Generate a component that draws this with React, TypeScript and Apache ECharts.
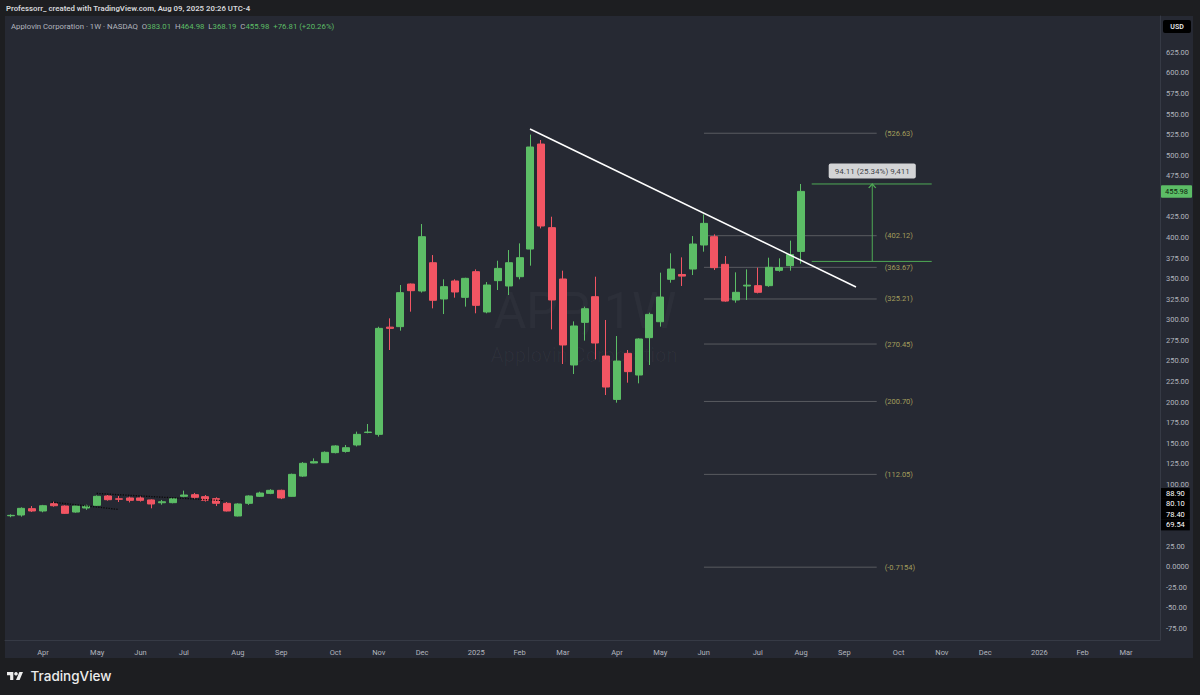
import React, { useEffect, useRef } from "react";
import * as echarts from "echarts";

// ---------- data ----------
const FIRST_WEEK = -3; // week index 0 = week of Apr 1, 2024
const opens = [61.8, 62.7, 70.4, 67.6, 76.5, 73.6, 66.3, 71.2, 74.5, 85.8, 82.3, 83.4, 83.4, 81.0, 77.6, 77.7, 85.4, 87.4, 85.0, 82.6, 76.9, 61.5, 76.9, 85.4, 89.0, 92.7, 85.4, 110.0, 125.9, 126.3, 138.5, 140.0, 147.8, 163.0, 160.7, 291.0, 291.6, 343.4, 334.9, 369.3, 325.2, 347.1, 327.2, 358.4, 309.4, 347.5, 341.0, 352.3, 385.9, 513.5, 411.9, 349.5, 245.0, 296.8, 328.0, 255.9, 203.2, 259.1, 232.8, 278.2, 297.6, 349.1, 355.0, 361.6, 390.8, 400.9, 367.3, 324.0, 341.0, 341.4, 341.4, 360.0, 365.7, 383.01];
const closes = [62.3, 70.8, 67.6, 74.0, 74.0, 64.7, 73.6, 73.6, 85.4, 81.3, 81.9, 80.5, 80.5, 76.1, 78.8, 82.6, 87.0, 84.2, 80.5, 76.9, 67.6, 76.1, 85.8, 89.4, 92.7, 83.4, 112.1, 125.5, 127.5, 138.9, 146.6, 144.5, 160.7, 163.5, 289.5, 289.5, 332.9, 335.3, 400.9, 323.6, 340.2, 333.7, 350.3, 317.5, 342.2, 362.4, 369.3, 375.4, 509.9, 413.9, 324.0, 269.3, 292.4, 313.4, 271.7, 218.2, 249.8, 236.9, 276.6, 306.5, 327.6, 361.6, 353.0, 392.0, 417.1, 363.3, 322.7, 333.3, 342.0, 333.3, 363.7, 363.3, 379.17, 455.98];
const lows = [60.0, 60.7, 66.4, 66.0, 72.8, 64.0, 65.5, 69.0, 73.6, 80.1, 78.5, 78.0, 79.0, 70.8, 75.2, 76.9, 84.2, 82.6, 79.0, 73.6, 67.0, 61.0, 75.0, 84.6, 88.0, 82.0, 85.0, 109.0, 125.5, 125.9, 137.6, 138.5, 146.0, 162.0, 158.0, 263.2, 286.7, 309.8, 333.0, 313.8, 306.9, 326.8, 315.9, 307.8, 307.8, 336.1, 330.0, 349.1, 365.7, 411.0, 288.3, 246.2, 234.0, 274.6, 251.9, 208.5, 199.2, 223.5, 222.7, 245.0, 291.6, 345.0, 341.0, 354.3, 382.7, 360.4, 321.9, 320.7, 324.0, 332.0, 340.0, 358.4, 359.6, 368.19];
const highs = [63.5, 72.0, 73.6, 75.0, 78.9, 74.4, 74.4, 75.2, 86.5, 87.0, 85.8, 85.0, 85.4, 81.7, 81.0, 83.6, 92.3, 89.5, 87.0, 84.2, 78.5, 76.9, 86.6, 91.0, 94.0, 93.5, 113.0, 127.0, 131.5, 140.0, 147.5, 147.8, 164.0, 173.3, 291.5, 301.7, 342.2, 344.0, 416.3, 378.6, 349.1, 349.1, 351.0, 361.2, 345.8, 371.7, 384.7, 392.8, 525.0, 518.4, 425.2, 359.6, 298.0, 315.9, 352.3, 299.7, 280.2, 263.2, 277.4, 308.6, 357.2, 380.7, 375.8, 401.7, 428.0, 403.8, 377.4, 357.6, 361.2, 363.3, 375.4, 374.6, 396.1, 464.98];

const monthTickWeeks = [0, 5, 9, 13, 18, 22, 27, 31, 35, 40, 44, 48, 53, 57, 61, 66, 70, 74, 79, 83, 87, 92, 96, 100];
const monthTickLabels = ["Apr", "May", "Jun", "Jul", "Aug", "Sep", "Oct", "Nov", "Dec", "2025", "Feb", "Mar", "Apr", "May", "Jun", "Jul", "Aug", "Sep", "Oct", "Nov", "Dec", "2026", "Feb", "Mar"];

// 450, 75 and 50 are hidden behind the price tags in the reference
const priceTicks = [-75, -50, -25, 0, 25, 100, 125, 150, 175, 200, 225, 250, 275, 300, 325, 350, 375, 400, 425, 475, 500, 525, 550, 575, 600, 625];

const fibLevels = [526.63, 402.12, 363.67, 325.21, 270.45, 200.70, 112.05, -0.7154];
const fibLabels = ["526.63", "402.12", "363.67", "325.21", "270.45", "200.70", "112.05", "-0.7154"];
const fibWeeks = [61.03, 76.98];

const trendWeeks = [44.97, 75.07];
const trendValues = [531.8, 339.8];

const dottedAWeeks = [0.8, 6.93];
const dottedAValues = [78.40, 69.54];
const dottedBWeeks = [4.96, 16.7];
const dottedBValues = [88.90, 80.10];

const measureWeeks = [70.98, 82.06];
const measureArrowWeek = 76.57;
const measureLow = 370.87;
const measureHigh = 464.98;
const measureLabelValue = 480.7;
const measureText = "94.11 (25.34%) 9,411";

const tagValues = [88.90, 80.10, 78.40, 69.54];
const tagLabels = ["88.90", "80.10", "78.40", "69.54"];

// ---------- style ----------
const PANE = "#262933";
const OUTER = "#1d1e21";
const GREEN = "#5cbd66";
const RED = "#f25563";
const AXIS_TXT = "#b2b5be";
const FIB_LINE = "rgba(150,150,150,0.45)";
const FIB_TXT = "#a39e5c";
const MEASURE = "#4faa55";
const FONT = "Roboto, 'Noto Sans', 'DejaVu Sans', sans-serif";

const X_MIN = -3.51;
const X_MAX = 103.14;
const Y_MIN = -89.2;
const Y_MAX = 669.1;

const TV_LOGO = "M14 22H7V11H0V4h14v18zM28 22h-8l7.5-18h8L28 22z";

export default function App() {
  const ref = useRef<HTMLDivElement>(null);

  useEffect(() => {
    if (!ref.current) return;
    try {
      echarts.graphic.registerShape("tvlogo", echarts.graphic.extendPath(TV_LOGO, {}) as any);
    } catch (e) {}
    const chart = echarts.init(ref.current, undefined, { renderer: "svg" });

    const candles = opens.map((o, k) => [FIRST_WEEK + k, o, closes[k], lows[k], highs[k]]);
    const n = closes.length;
    const lastO = opens[n - 1], lastH = highs[n - 1], lastL = lows[n - 1], lastC = closes[n - 1];
    const chg = lastC - closes[n - 2];
    const chgPct = (chg / closes[n - 2]) * 100;

    const tagOffsets = [0, 3.3, 12.2, 15.6];

    const fibSeries = fibLevels.map((v, k) => ({
      type: "line",
      silent: true,
      symbol: "none",
      z: 1,
      data: [[fibWeeks[0], v], [fibWeeks[1], v]],
      lineStyle: { color: FIB_LINE, width: 1 },
      endLabel: {
        show: true,
        formatter: "(" + fibLabels[k] + ")",
        color: FIB_TXT,
        fontSize: 7.5,
        fontFamily: FONT,
        distance: 8,
      },
    }));

    const labelText =
      "{n|Applovin Corporation · 1W · NASDAQ  O}{v|" + lastO.toFixed(2) +
      "}{n|  H}{v|" + lastH.toFixed(2) +
      "}{n|  L}{v|" + lastL.toFixed(2) +
      "}{n|  C}{v|" + lastC.toFixed(2) +
      "}{v|  +" + chg.toFixed(2) + " (+" + chgPct.toFixed(2) + "%)}";

    const tagLabelBase = {
      show: true,
      position: "end",
      distance: 1,
      fontSize: 7.5,
      fontFamily: FONT,
      lineHeight: 8,
    };

    const option: any = {
      animation: false,
      backgroundColor: PANE,
      textStyle: { fontFamily: FONT },
      grid: { left: 5, right: 40, top: 16, bottom: 55, containLabel: false, outerBoundsMode: "none" },
      xAxis: {
        type: "value",
        min: X_MIN,
        max: X_MAX,
        axisLine: { show: true, onZero: false, lineStyle: { color: "#363a45", width: 1 } },
        axisTick: { show: false },
        splitLine: { show: false },
        axisLabel: {
          customValues: monthTickWeeks,
          formatter: (v: number) => {
            const k = monthTickWeeks.findIndex((w) => Math.abs(w - v) < 0.01);
            return k >= 0 ? monthTickLabels[k] : "";
          },
          color: AXIS_TXT,
          fontSize: 7.5,
          fontFamily: FONT,
          margin: 8,
        },
      },
      yAxis: {
        type: "value",
        position: "right",
        min: Y_MIN,
        max: Y_MAX,
        axisLine: { show: true, onZero: false, lineStyle: { color: "#363a45", width: 1 } },
        axisTick: { show: false },
        splitLine: { show: false },
        axisLabel: {
          customValues: priceTicks,
          formatter: (v: number) => (v === 0 ? "0.0000" : v.toFixed(2)),
          color: AXIS_TXT,
          fontSize: 7.5,
          fontFamily: FONT,
          margin: 6,
        },
      },
      graphic: [
        { type: "rect", silent: true, shape: { x: 0, y: 0, width: 1200, height: 16 }, style: { fill: OUTER } },
        { type: "rect", silent: true, shape: { x: 0, y: 0, width: 5, height: 695 }, style: { fill: OUTER } },
        { type: "rect", silent: true, shape: { x: 1193, y: 0, width: 7, height: 695 }, style: { fill: OUTER } },
        { type: "rect", silent: true, shape: { x: 0, y: 658, width: 1200, height: 37 }, style: { fill: OUTER } },
        {
          type: "text", silent: true, x: 6, y: 8.5,
          style: { text: "Professorr_ created with TradingView.com, Aug 09, 2025 20:26 UTC-4", fill: "#d6d7db", fontSize: 7.8, fontWeight: 600, fontFamily: FONT, verticalAlign: "middle" },
        },
        {
          type: "text", silent: true, x: 11, y: 26,
          style: {
            text: labelText, fontFamily: FONT, verticalAlign: "middle",
            rich: {
              n: { fill: "#b2b5be", fontSize: 7.8, fontFamily: FONT },
              v: { fill: GREEN, fontSize: 7.8, fontFamily: FONT },
            },
          },
        },
        { type: "rect", silent: true, shape: { x: 1163, y: 20, width: 28, height: 13, r: 2 }, style: { fill: "#000000" } },
        {
          type: "text", silent: true, x: 1177, y: 26.5,
          style: { text: "USD", fill: "#e8e8e8", fontSize: 7, fontWeight: 600, fontFamily: FONT, align: "center", verticalAlign: "middle" },
        },
        {
          type: "text", silent: true, x: 585, y: 311,
          style: { text: "APP, 1W", fill: "rgba(255,255,255,0.03)", fontSize: 50, fontFamily: FONT, align: "center", verticalAlign: "middle" },
        },
        {
          type: "text", silent: true, x: 584, y: 355,
          style: { text: "Applovin Corporation", fill: "rgba(255,255,255,0.03)", fontSize: 20, fontFamily: FONT, align: "center", verticalAlign: "middle" },
        },
        { type: "tvlogo", silent: true, x: 7, y: 670.2, scaleX: 0.45, scaleY: 0.45, style: { fill: "#ececec" } },
        { type: "circle", silent: true, shape: { cx: 16, cy: 673.8, r: 1.8 }, style: { fill: "#ececec" } },
        {
          type: "text", silent: true, x: 30.5, y: 676,
          style: { text: "TradingView", fill: "#ececec", fontSize: 13.5, fontWeight: 500, fontFamily: "Inter, Roboto, sans-serif", verticalAlign: "middle" },
        },
      ],
      series: [
        {
          type: "candlestick",
          name: "APP",
          data: candles,
          barWidth: 7.5,
          z: 3,
          itemStyle: { color: GREEN, color0: RED, borderColor: GREEN, borderColor0: RED, borderWidth: 1 },
          markLine: {
            silent: true,
            symbol: ["none", "none"],
            lineStyle: { color: "rgba(0,0,0,0)", width: 0 },
            label: tagLabelBase,
            data: [
              {
                yAxis: lastC,
                lineStyle: { color: "rgba(0,0,0,0)", width: 0 },
                label: { ...tagLabelBase, formatter: lastC.toFixed(2), backgroundColor: GREEN, color: "#0e1f10", padding: [2.5, 4, 2, 4], borderRadius: 1 },
              },
              ...tagValues.map((v, k) => ({
                yAxis: v,
                lineStyle: { color: "rgba(0,0,0,0)", width: 0 },
                label: { ...tagLabelBase, formatter: tagLabels[k], backgroundColor: "#000000", color: "#ffffff", padding: [1.4, 5, 1.4, 5], offset: [0, tagOffsets[k]] },
              })),
            ],
          },
        },
        ...fibSeries,
        {
          type: "line", silent: true, symbol: "none", z: 4,
          data: trendWeeks.map((w, k) => [w, trendValues[k]]),
          lineStyle: { color: "#ffffff", width: 1.5 },
        },
        {
          type: "line", silent: true, symbol: "none", z: 4,
          data: dottedAWeeks.map((w, k) => [w, dottedAValues[k]]),
          lineStyle: { color: "#0a0a0a", width: 1.3, type: "dotted" },
        },
        {
          type: "line", silent: true, symbol: "none", z: 4,
          data: dottedBWeeks.map((w, k) => [w, dottedBValues[k]]),
          lineStyle: { color: "#0a0a0a", width: 1.3, type: "dotted" },
        },
        {
          type: "line", silent: true, symbol: "none", z: 4,
          data: [[measureWeeks[0], measureHigh], [measureWeeks[1], measureHigh]],
          lineStyle: { color: MEASURE, width: 1 },
        },
        {
          type: "line", silent: true, symbol: "none", z: 4,
          data: [[measureWeeks[0], measureLow], [measureWeeks[1], measureLow]],
          lineStyle: { color: MEASURE, width: 1 },
        },
        {
          type: "line", silent: true, symbol: "none", showSymbol: true, z: 4,
          data: [
            [measureArrowWeek, measureLow],
            {
              value: [measureArrowWeek, measureHigh],
              symbol: "path://M0,8 L5,0 L10,8",
              symbolSize: [7, 4],
              symbolOffset: [0, 2],
              itemStyle: { color: "transparent", borderColor: MEASURE, borderWidth: 1 },
            },
          ],
          lineStyle: { color: MEASURE, width: 1 },
        },
        {
          type: "scatter", silent: true, z: 5,
          symbolSize: 0,
          data: [[measureArrowWeek, measureLabelValue]],
          label: {
            show: true,
            position: "inside",
            formatter: measureText,
            backgroundColor: "#ffffff",
            color: "#131722",
            fontSize: 8,
            fontFamily: FONT,
            padding: [3.5, 6, 3.5, 6],
            borderRadius: 2,
          },
        },
      ],
    };

    chart.setOption(option);
    return () => chart.dispose();
  }, []);

  return (
    <div
      ref={ref}
      style={{ position: "fixed", left: 0, top: 0, width: 1200, height: 695 }}
    />
  );
}
